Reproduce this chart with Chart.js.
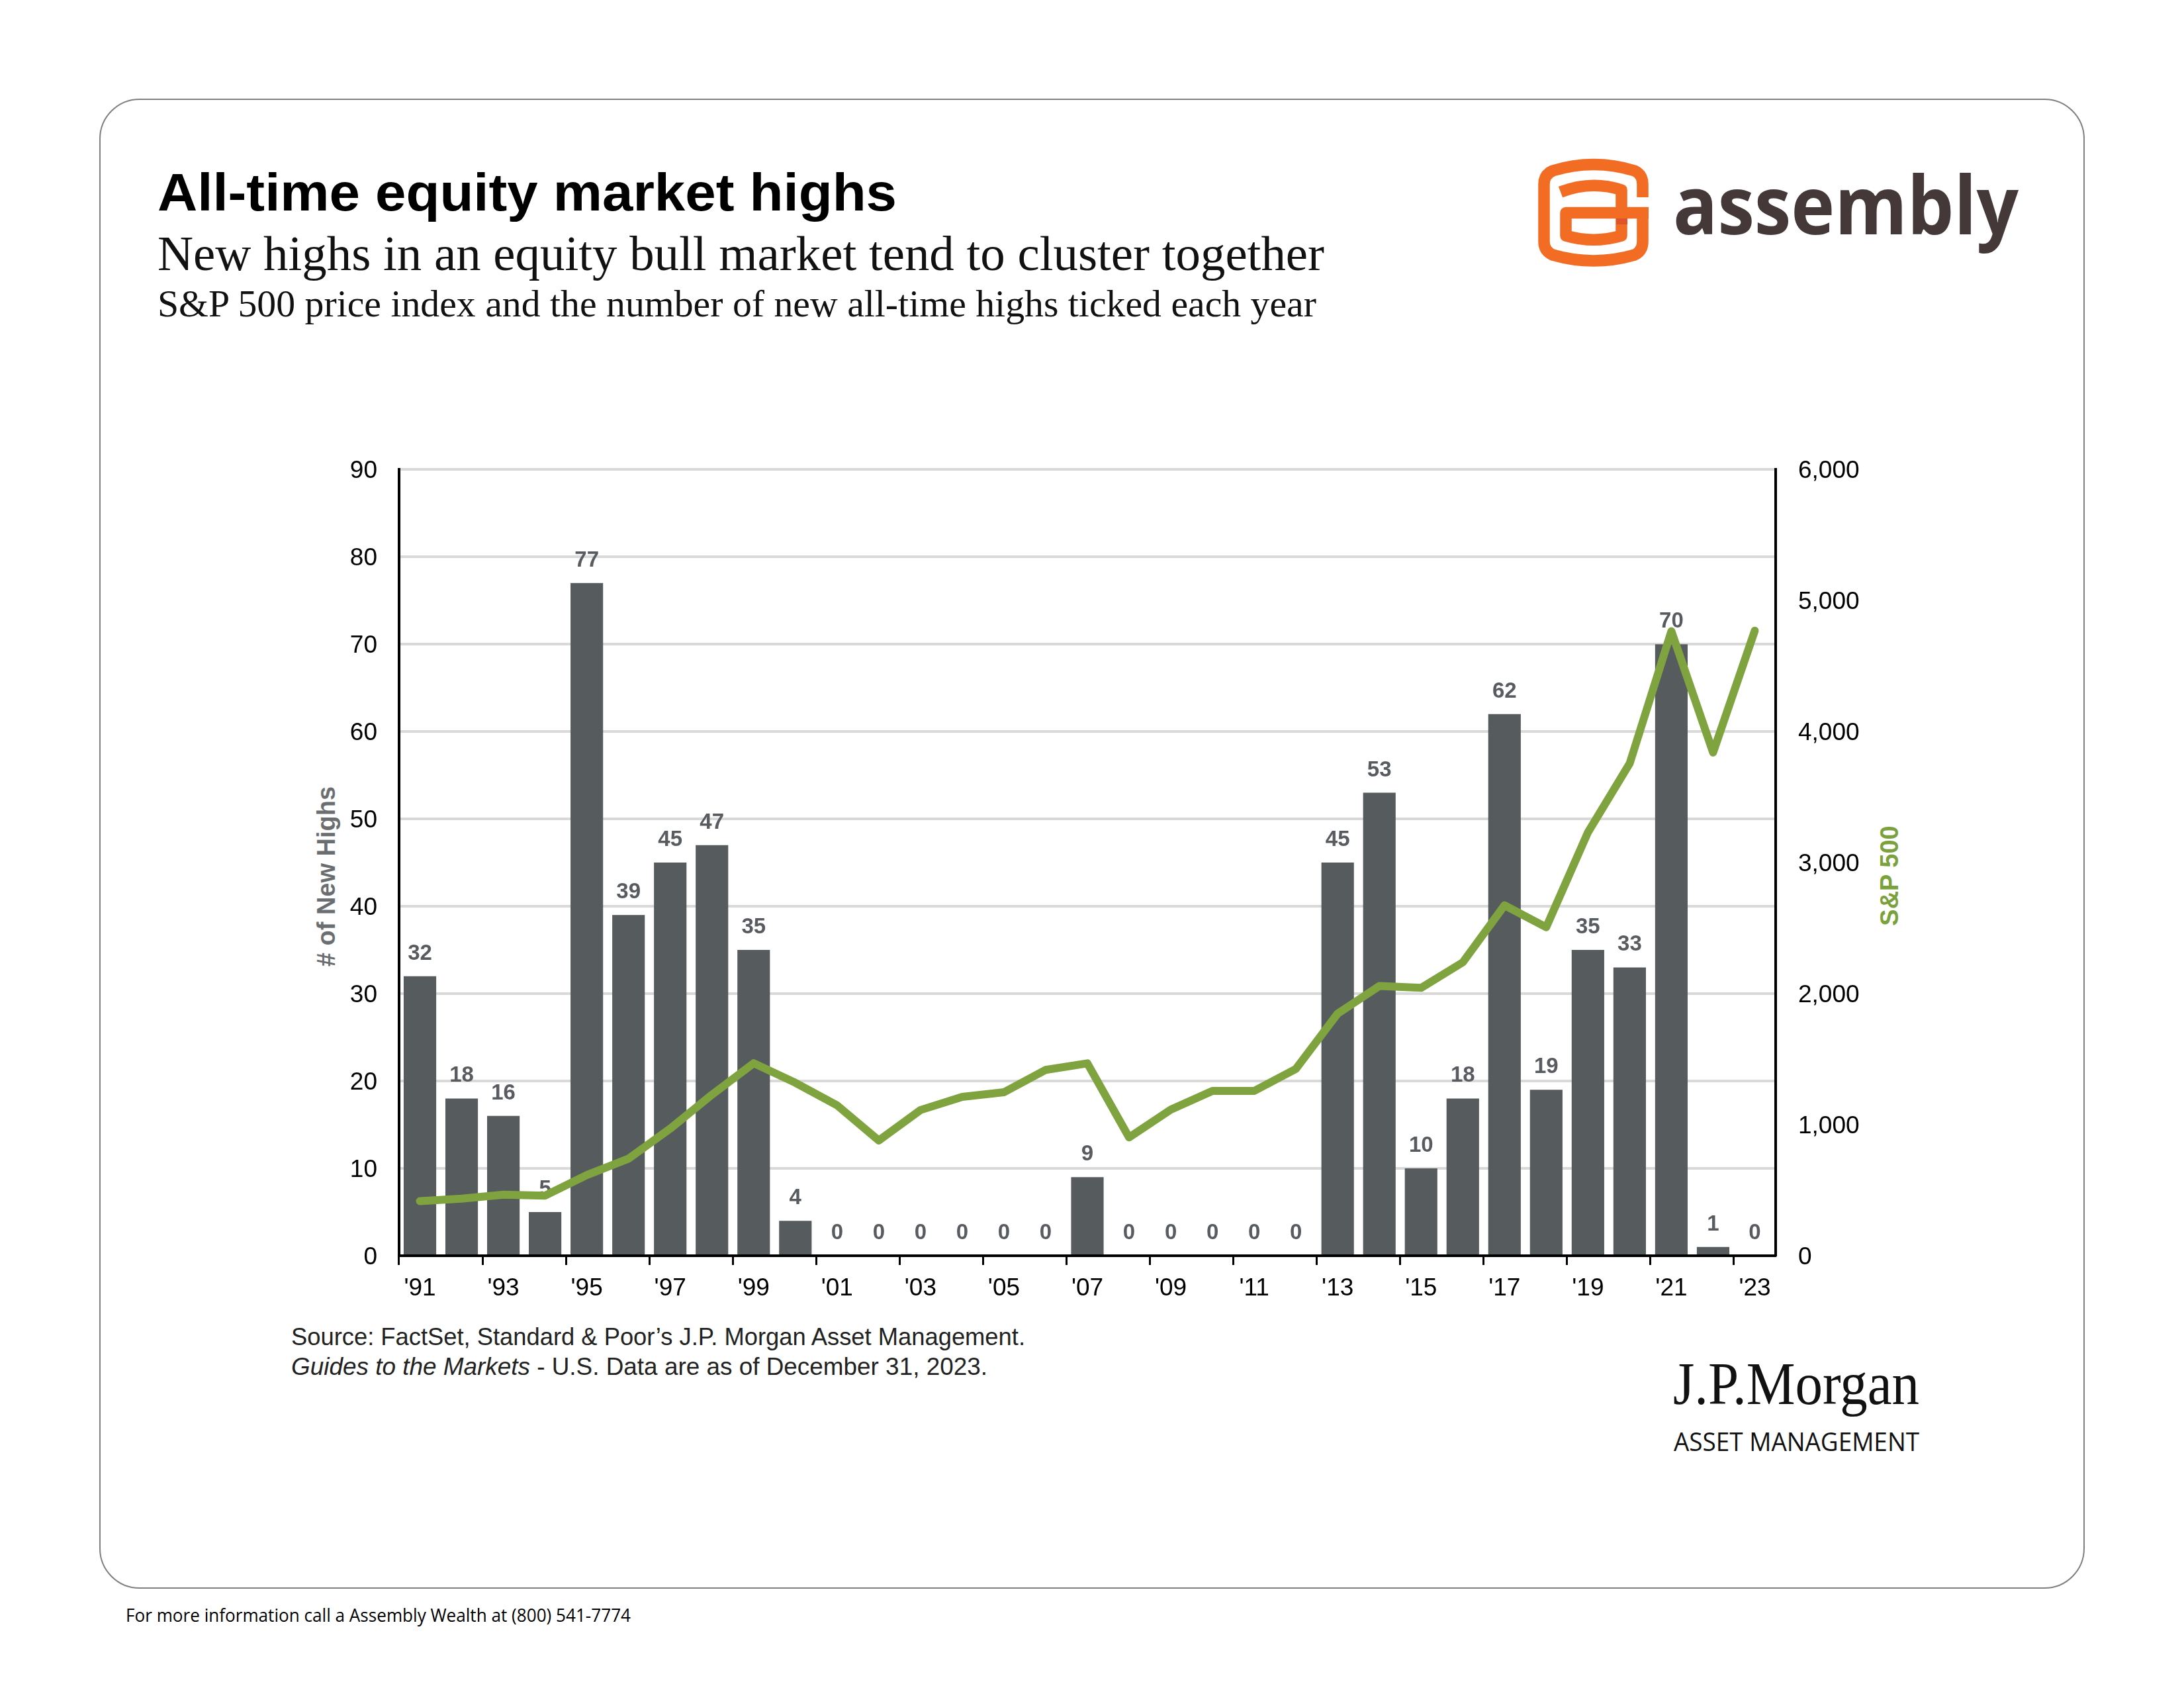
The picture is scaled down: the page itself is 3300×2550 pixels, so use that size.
<!DOCTYPE html>
<html>
<head>
<meta charset="utf-8">
<title>All-time equity market highs</title>
<script src="https://cdn.jsdelivr.net/npm/chart.js@4"></script>
<style>
  html, body { margin: 0; padding: 0; background: #fff; }
  #page { position: relative; width: 3300px; height: 2550px; overflow: hidden; }
  #overlay { position: absolute; left: 0; top: 0; }
  #chartBox { position: absolute; left: 400px; top: 653px; width: 2500px; height: 1347px; }
  text { white-space: pre; }
</style>
</head>
<body>
<div id="page">
  <svg id="overlay" width="3300" height="2550" viewBox="0 0 3300 2550">
    <rect x="151" y="150" width="2998" height="2249" rx="60" ry="60" fill="#fff" stroke="#7f7f7f" stroke-width="2"/>

    <!-- headings -->
    <text x="238" y="318" font-family="Liberation Sans" font-weight="700" font-size="80" fill="#000" textLength="1117" lengthAdjust="spacingAndGlyphs">All-time equity market highs</text>
    <text x="238" y="408" font-family="Liberation Serif" font-size="73" fill="#111" textLength="1763" lengthAdjust="spacingAndGlyphs">New highs in an equity bull market tend to cluster together</text>
    <text x="238" y="478" font-family="Liberation Serif" font-size="56" fill="#111" textLength="1751" lengthAdjust="spacingAndGlyphs">S&amp;P 500 price index and the number of new all-time highs ticked each year</text>

    <!-- assembly logo -->
    <g fill="none" stroke="#f36c24" stroke-width="17.5" stroke-linejoin="round">
      <path d="M2482 298 V278 Q2482 264 2470 258 Q2408 239 2346 258 Q2333 264 2333 278 V365 Q2333 379 2346 385 Q2408 403 2470 385 Q2482 379 2482 365 V313"/>
      <path d="M2491 321.5 H2366 V356 Q2408 368.5 2450 356 V287 Q2405 272 2358 290"/>
    </g>
    <rect x="2442" y="330" width="17" height="9" fill="#e0532a"/>
    <text x="2528" y="354" font-family="Open Sans" font-weight="700" font-size="122" fill="#453838" textLength="522" lengthAdjust="spacingAndGlyphs">assembly</text>

    <!-- axis titles -->
    <text transform="translate(506 1324) rotate(-90)" text-anchor="middle" font-family="Liberation Sans" font-weight="700" font-size="38" fill="#6b6e70"># of New Highs</text>
    <text transform="translate(2868 1323) rotate(-90)" text-anchor="middle" font-family="Liberation Sans" font-weight="700" font-size="38" fill="#7ba13c">S&amp;P 500</text>

    <!-- source -->
    <text x="440" y="2032" font-family="Liberation Sans" font-size="36" fill="#222" textLength="1109" lengthAdjust="spacingAndGlyphs">Source: FactSet, Standard &amp; Poor’s J.P. Morgan Asset Management.</text>
    <text x="440" y="2077" font-family="Liberation Sans" font-size="36" fill="#222" textLength="1052" lengthAdjust="spacingAndGlyphs"><tspan font-style="italic">Guides to the Markets</tspan> - U.S. Data are as of December 31, 2023.</text>

    <!-- jp morgan -->
    <text x="2528" y="2121" font-family="Liberation Serif" font-size="91" fill="#111" textLength="372" lengthAdjust="spacingAndGlyphs">J.P.Morgan</text>
    <text x="2529" y="2192" font-family="Open Sans" font-weight="500" font-size="39" fill="#111" textLength="371" lengthAdjust="spacingAndGlyphs">ASSET MANAGEMENT</text>

    <!-- footer -->
    <text x="190" y="2450" font-family="Open Sans" font-size="27" fill="#000" textLength="763" lengthAdjust="spacingAndGlyphs">For more information call a Assembly Wealth at (800) 541-7774</text>
  </svg>
  <div id="chartBox"><canvas id="highsChart" width="2500" height="1347"></canvas></div>
</div>

<script>
const years = ["'91","'92","'93","'94","'95","'96","'97","'98","'99","'00","'01","'02","'03","'04","'05","'06","'07","'08","'09","'10","'11","'12","'13","'14","'15","'16","'17","'18","'19","'20","'21","'22","'23"];
const newHighs = [32,18,16,5,77,39,45,47,35,4,0,0,0,0,0,0,9,0,0,0,0,0,45,53,10,18,62,19,35,33,70,1,0];
const sp500 = [417,436,466,459,616,741,970,1229,1469,1320,1148,880,1112,1212,1248,1418,1468,903,1115,1258,1258,1426,1848,2059,2044,2239,2674,2507,3231,3756,4766,3840,4770];

// bar value labels, drawn right after the bars so the line sits on top
const barLabels = {
  id: 'barLabels',
  afterDatasetDraw(chart, args) {
    if (args.index !== 0) return;
    const ctx = chart.ctx;
    ctx.save();
    ctx.font = 'bold 33px "Liberation Sans"';
    ctx.fillStyle = '#585c60';
    ctx.textAlign = 'center';
    ctx.textBaseline = 'alphabetic';
    args.meta.data.forEach((bar, i) => {
      ctx.fillText(String(newHighs[i]), bar.x, bar.y - 25);
    });
    ctx.restore();
  }
};

new Chart(document.getElementById('highsChart').getContext('2d'), {
  type: 'bar',
  plugins: [barLabels],
  data: {
    labels: years,
    datasets: [
      {
        type: 'bar',
        label: '# of New Highs',
        data: newHighs,
        yAxisID: 'y',
        order: 2,
        backgroundColor: '#565b5e',
        categoryPercentage: 1,
        barPercentage: 0.78
      },
      {
        type: 'line',
        label: 'S&P 500',
        data: sp500,
        yAxisID: 'y1',
        order: 1,
        borderColor: '#7fa33e',
        borderWidth: 12,
        borderCapStyle: 'round',
        borderJoinStyle: 'round',
        pointRadius: 0,
        tension: 0,
        fill: false
      }
    ]
  },
  options: {
    responsive: false,
    animation: false,
    devicePixelRatio: 1,
    layout: { padding: 0 },
    plugins: { legend: { display: false }, tooltip: { enabled: false } },
    scales: {
      x: {
        type: 'category',
        afterFit: s => { s.height = 103; },
        border: { color: '#000', width: 4 },
        grid: {
          offset: true,
          drawOnChartArea: false,
          tickLength: 14,
          tickWidth: 3,
          tickColor: c => (c.index % 2 === 0 ? '#000' : 'rgba(0,0,0,0)')
        },
        ticks: {
          autoSkip: false,
          maxRotation: 0,
          minRotation: 0,
          padding: 14,
          color: '#000',
          font: { family: 'Liberation Sans', size: 37 },
          callback: function (v, i) { return i % 2 === 0 ? this.getLabelForValue(v) : ''; }
        }
      },
      y: {
        position: 'left',
        min: 0,
        max: 90,
        afterFit: s => { s.width = 203; },
        border: { color: '#000', width: 4 },
        grid: { color: '#d9d9d9', lineWidth: 4, drawTicks: false },
        ticks: {
          stepSize: 10,
          padding: 33,
          labelOffset: 3,
          color: '#000',
          font: { family: 'Liberation Sans', size: 37 }
        }
      },
      y1: {
        position: 'right',
        min: 0,
        max: 6000,
        afterFit: s => { s.width = 217; },
        border: { color: '#000', width: 4 },
        grid: { drawOnChartArea: false, drawTicks: false },
        ticks: {
          stepSize: 1000,
          padding: 34,
          labelOffset: 3,
          color: '#000',
          font: { family: 'Liberation Sans', size: 37 },
          callback: v => v.toLocaleString('en-US')
        }
      }
    }
  }
});
</script>
</body>
</html>
